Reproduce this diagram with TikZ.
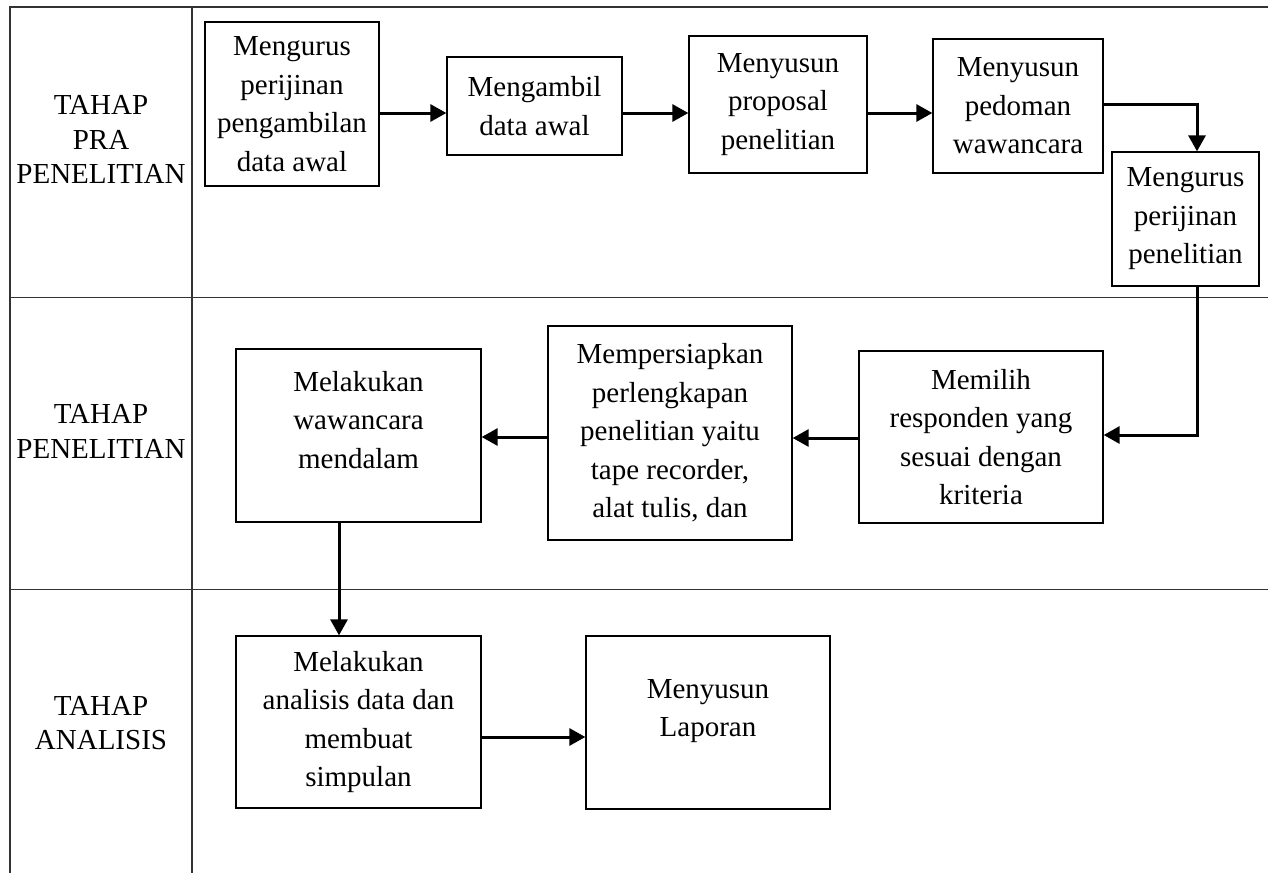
\documentclass[tikz,border=0pt]{standalone}
\usepackage{fontspec}
\setmainfont{Liberation Serif}
\usetikzlibrary{arrows.meta}
\begin{document}
\begin{tikzpicture}[x=1pt,y=-1pt,
  lane/.style={line width=1.6pt, draw=black!80},
  box/.style={draw, line width=1.3pt, inner sep=0pt, align=center, font=\fontsize{29}{38.5}\selectfont},
  txt/.style={inner sep=0pt, align=center, font=\fontsize{29}{38.5}\selectfont},
  lbl/.style={inner sep=0pt, align=center, font=\fontsize{29}{34.5}\selectfont},
  arr/.style={line width=3pt, -{Triangle[length=16pt,width=17pt]}}]
\useasboundingbox (0,0) rectangle (1268,873);
% swimlane frame
\draw[lane] (10,873) -- (10,7) -- (1268,7);
\draw[lane] (192,7) -- (192,873);
\draw[lane] (10,297.5) -- (1268,297.5);
\draw[lane] (10,589.5) -- (1268,589.5);
% lane labels
\node[lbl] (l1) at (101,139.5) {TAHAP\\PRA\\PENELITIAN};
\node[lbl] (l2) at (101,431.5) {TAHAP\\PENELITIAN};
\node[lbl] (l3) at (101,723) {TAHAP\\ANALISIS};
% boxes
\node[box, minimum width=174pt, minimum height=164pt] (b1) at (292,104) {Mengurus\\perijinan\\pengambilan\\data awal};
\node[box, minimum width=175pt, minimum height=98pt] (b2) at (534.5,106) {Mengambil\\data awal};
\node[box, minimum width=178pt, minimum height=137pt] (b3) at (778,104.5) {Menyusun\\proposal\\penelitian};
\node[box, minimum width=170pt, minimum height=134pt] (b4) at (1018,106) {Menyusun\\pedoman\\wawancara};
\node[box, minimum width=147pt, minimum height=134pt] (b5) at (1185.5,219) {Mengurus\\perijinan\\penelitian};
\node[box, minimum width=244pt, minimum height=172pt] (b6) at (981,437) {Memilih\\responden yang\\sesuai dengan\\kriteria};
\node[box, minimum width=244pt, minimum height=214pt] (b7) at (670,433) {Mempersiapkan\\perlengkapan\\penelitian yaitu\\tape recorder,\\alat tulis, dan};
\node[box, minimum width=245pt, minimum height=173pt] (b8) at (358.5,435.5) {};
\node[txt] (t8) at (358.5,420) {Melakukan\\wawancara\\mendalam};
\node[box, minimum width=245pt, minimum height=172pt] (b9) at (358.5,722) {Melakukan\\analisis data dan\\membuat\\simpulan};
\node[box, minimum width=244pt, minimum height=173pt] (b10) at (708,722.5) {};
\node[txt] (t10) at (708,711) {Menyusun\\Laporan};
% connectors
\draw[arr] (b1.east |- 0,113) -- (b2.west |- 0,113);
\draw[arr] (b2.east |- 0,113) -- (b3.west |- 0,113);
\draw[arr] (b3.east |- 0,113) -- (b4.west |- 0,113);
\draw[arr] (b4.east |- 0,104) -| (1197,0 |- b5.north);
\draw[arr] (1197,0 |- b5.south) |- (b6.east |- 0,435);
\draw[arr] (b6.west |- 0,438) -- (b7.east |- 0,438);
\draw[arr] (b7.west |- 0,437) -- (b8.east |- 0,437);
\draw[arr] (339,0 |- b8.south) -- (339,0 |- b9.north);
\draw[arr] (b9.east |- 0,737) -- (b10.west |- 0,737);
\end{tikzpicture}
\end{document}
